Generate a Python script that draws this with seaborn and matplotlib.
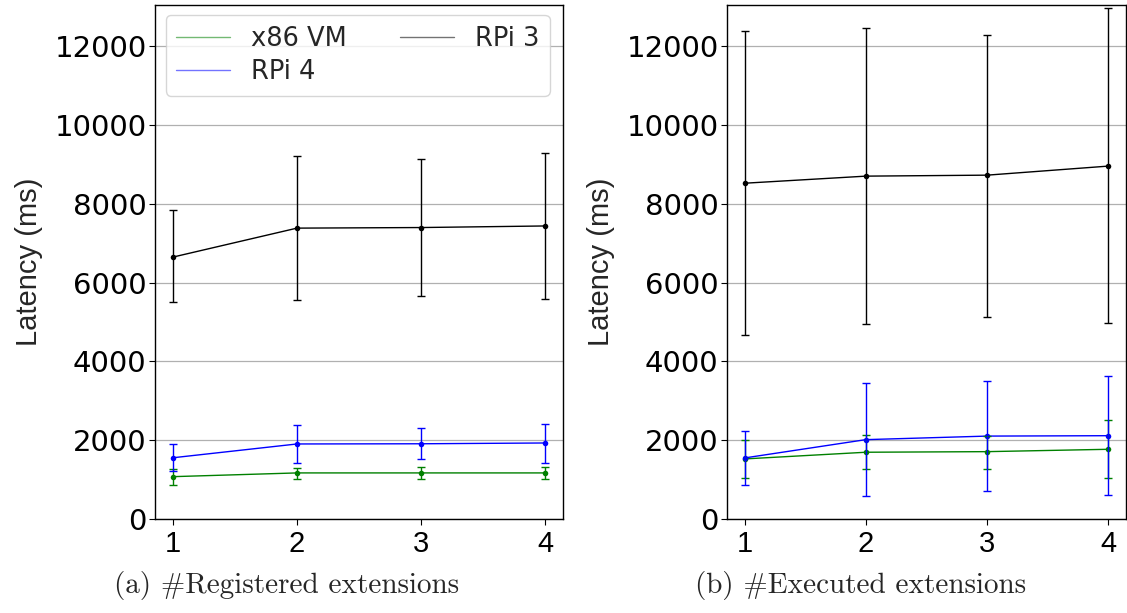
import numpy as np
import pandas as pd
import seaborn as sns
import matplotlib
matplotlib.use("Agg")
import matplotlib.pyplot as plt
from matplotlib.lines import Line2D

# ---------------- data ----------------
x_vals = [1, 2, 3, 4]
series_names = ["x86 VM", "RPi 4", "RPi 3"]
series_colors = {"x86 VM": "green", "RPi 4": "blue", "RPi 3": "black"}

# (a) Registered extensions
reg_x86_mean = [1075, 1170, 1170, 1170]
reg_x86_low = [865, 1025, 1005, 1025]
reg_x86_high = [1280, 1295, 1330, 1310]
reg_rpi4_mean = [1555, 1905, 1910, 1930]
reg_rpi4_low = [1220, 1430, 1515, 1430]
reg_rpi4_high = [1905, 2380, 2310, 2420]
reg_rpi3_mean = [6650, 7385, 7400, 7440]
reg_rpi3_low = [5500, 5555, 5650, 5580]
reg_rpi3_high = [7850, 9210, 9150, 9280]

# (b) Executed extensions
exe_x86_mean = [1525, 1695, 1710, 1770]
exe_x86_low = [1040, 1260, 1280, 1035]
exe_x86_high = [2000, 2125, 2105, 2505]
exe_rpi4_mean = [1550, 2015, 2105, 2115]
exe_rpi4_low = [855, 585, 710, 615]
exe_rpi4_high = [2225, 3445, 3510, 3630]
exe_rpi3_mean = [8525, 8705, 8730, 8960]
exe_rpi3_low = [4670, 4950, 5130, 4975]
exe_rpi3_high = [12385, 12460, 12285, 12970]

captions = ["(a) #Registered extensions", "(b) #Executed extensions"]
y_label = "Latency (ms)"
y_ticks = [0, 2000, 4000, 6000, 8000, 10000, 12000]


def build(prefix_data):
    rows = []
    for name, (m, lo, hi) in prefix_data.items():
        for xv, mv, lv, hv in zip(x_vals, m, lo, hi):
            rows.append(dict(x=xv, series=name, mean=mv, low=lv, high=hv))
    return pd.DataFrame(rows)


df_a = build({
    "x86 VM": (reg_x86_mean, reg_x86_low, reg_x86_high),
    "RPi 4": (reg_rpi4_mean, reg_rpi4_low, reg_rpi4_high),
    "RPi 3": (reg_rpi3_mean, reg_rpi3_low, reg_rpi3_high),
})
df_b = build({
    "x86 VM": (exe_x86_mean, exe_x86_low, exe_x86_high),
    "RPi 4": (exe_rpi4_mean, exe_rpi4_low, exe_rpi4_high),
    "RPi 3": (exe_rpi3_mean, exe_rpi3_low, exe_rpi3_high),
})

# ---------------- style ----------------
sns.set_theme(style="white")
plt.rcParams["font.family"] = ["DejaVu Sans"]

fig = plt.figure(figsize=(11.27, 6.13), dpi=100)
W, H = 1127, 613
ax_a = fig.add_axes([155 / W, (H - 519) / H, 408 / W, 514 / H])
ax_b = fig.add_axes([727 / W, (H - 519) / H, 399 / W, 514 / H])

narrow = ["Liberation Sans", "DejaVu Sans"]

for ax, df in [(ax_a, df_a), (ax_b, df_b)]:
    ax.yaxis.grid(True, color="#b0b0b0", linewidth=0.9)
    ax.set_axisbelow(True)
    sns.lineplot(data=df, x="x", y="mean", hue="series", palette=series_colors,
                 hue_order=series_names, marker="o", markersize=4,
                 markeredgewidth=0, linewidth=1.0, ax=ax, legend=False,
                 estimator=None, errorbar=None)
    for name in series_names:
        sub = df[df.series == name]
        yerr = np.vstack([sub["mean"] - sub["low"], sub["high"] - sub["mean"]])
        ax.errorbar(sub["x"], sub["mean"], yerr=yerr, fmt="none",
                    ecolor=series_colors[name], elinewidth=1.0, capsize=3,
                    capthick=1.0)
    ax.set_ylim(0, 13050)
    ax.set_xlim(0.855, 4.145)
    ax.set_yticks(y_ticks)
    ax.set_xticks(x_vals)
    ax.set_xlabel("")
    ax.set_ylabel(y_label, fontsize=21, family=narrow, labelpad=8)
    ax.tick_params(axis="y", labelsize=21, length=4, width=0.8, direction="out",
                   left=True, pad=2, colors="black")
    ax.tick_params(axis="x", length=4, width=0.8, direction="out", bottom=True,
                   pad=4, colors="black")
    for lab in ax.get_xticklabels():
        lab.set_fontsize(21)
        lab.set_family(narrow)
    for sp in ax.spines.values():
        sp.set_color("black")
        sp.set_linewidth(1.0)

handles = [Line2D([], [], color=series_colors[n], linewidth=1.0, alpha=0.55)
           for n in series_names]
ax_a.legend(handles, series_names, loc="upper left", ncol=2, fontsize=18.5,
            frameon=True, handlelength=2.1, handletextpad=0.8,
            columnspacing=2.1, labelspacing=0.3,
            bbox_to_anchor=(0.02, 0.985), borderaxespad=0.1)

fig.text(287 / W, (H - 586) / H, captions[0], ha="center", va="center",
         fontsize=21, family="cmr10")
fig.text(861 / W, (H - 586) / H, captions[1], ha="center", va="center",
         fontsize=21, family="cmr10")

fig.savefig("out.png", dpi=100)
